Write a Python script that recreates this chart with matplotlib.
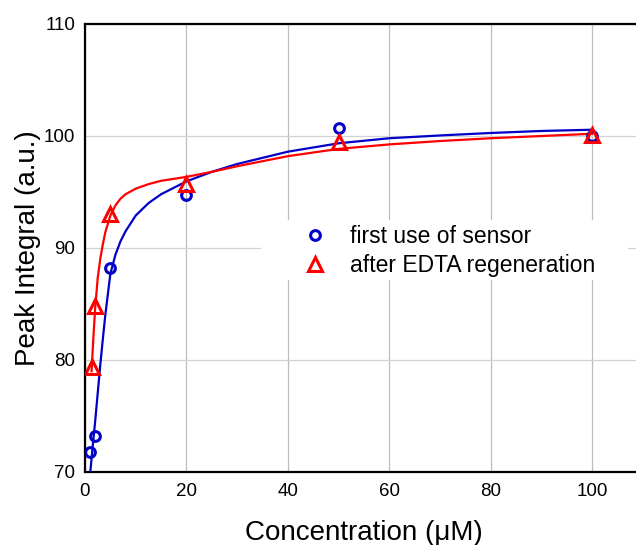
import matplotlib
matplotlib.use("Agg")
import matplotlib.pyplot as plt
from matplotlib.patches import Rectangle

plt.rcParams['font.family'] = ['Liberation Sans', 'DejaVu Sans']

# measured points
conc_first = [1, 2, 5, 20, 50, 100]
peak_first = [71.8, 73.2, 88.2, 94.7, 100.7, 100.0]
conc_regen = [1.3, 2, 5, 20, 50, 100]
peak_regen = [79.4, 84.8, 93.0, 95.7, 99.5, 100.1]

# fitted curves
fit_x_first = [1.05, 1.5, 2, 2.5, 3, 3.5, 4, 5, 6, 7, 8, 10, 12.5, 15, 20,
               25, 30, 40, 50, 60, 70, 80, 90, 100]
fit_y_first = [70.0, 72.2, 74.5, 77.0, 79.5, 81.8, 84.0, 87.7, 89.4, 90.6,
               91.5, 92.9, 94.0, 94.8, 95.95, 96.8, 97.5, 98.6, 99.35, 99.8,
               100.05, 100.27, 100.45, 100.56]
fit_x_regen = [1.3, 1.6, 2, 2.5, 3, 3.5, 4, 5, 6, 7, 8, 10, 12.5, 15, 20,
               25, 30, 40, 50, 60, 70, 80, 90, 100]
fit_y_regen = [79.0, 81.6, 84.6, 87.3, 89.0, 90.3, 91.4, 92.9, 93.8, 94.4,
               94.8, 95.3, 95.7, 96.0, 96.35, 96.8, 97.3, 98.2, 98.85, 99.25,
               99.55, 99.8, 100.0, 100.2]

blue = "#0000c8"
red = "#ff0000"

fig = plt.figure(figsize=(6.36, 5.45), dpi=100)
ax = fig.add_axes([85 / 636, 73 / 545, 558 / 636, 448 / 545])

ax.plot(fit_x_first, fit_y_first, color=blue, lw=1.6, zorder=3)
ax.plot(fit_x_regen, fit_y_regen, color=red, lw=1.6, zorder=3)
ax.plot(conc_first, peak_first, "o", ms=7, mfc="none", mec=blue, mew=2.2,
        ls="none", label="first use of sensor", zorder=4)
ax.plot(conc_regen, peak_regen, "^", ms=9.5, mfc="none", mec=red, mew=2.2,
        ls="none", label="after EDTA regeneration", zorder=4)

ax.set_xlim(0, 110)
ax.set_ylim(70, 110)
ax.set_xticks([0, 20, 40, 60, 80, 100])
ax.set_yticks([70, 80, 90, 100, 110])
ax.grid(True, axis="x", color="#bebebe", lw=0.9)
ax.grid(True, axis="y", color="#d2d2d2", lw=0.9)
ax.set_axisbelow(True)
ax.tick_params(length=0, labelsize=13.5)
ax.tick_params(axis="x", pad=8)
ax.tick_params(axis="y", pad=7)

for s in ax.spines.values():
    s.set_linewidth(1.6)
    s.set_color("black")

ax.set_xlabel("Concentration (μM)", fontsize=20, labelpad=14)
ax.set_ylabel("Peak Integral (a.u.)", fontsize=20, labelpad=2)

# white box behind the legend hides the grid
ax.add_patch(Rectangle((0.3154, 0.4286), 0.658, 0.134, transform=ax.transAxes,
                       facecolor="white", edgecolor="none", zorder=1))
ax.legend(loc="upper left", bbox_to_anchor=(0.371, 0.562), frameon=False,
          fontsize=16.5, handlelength=1.6, handletextpad=0.72,
          labelspacing=0.25, borderpad=0.2, borderaxespad=0)

fig.savefig("out.png", dpi=100)
